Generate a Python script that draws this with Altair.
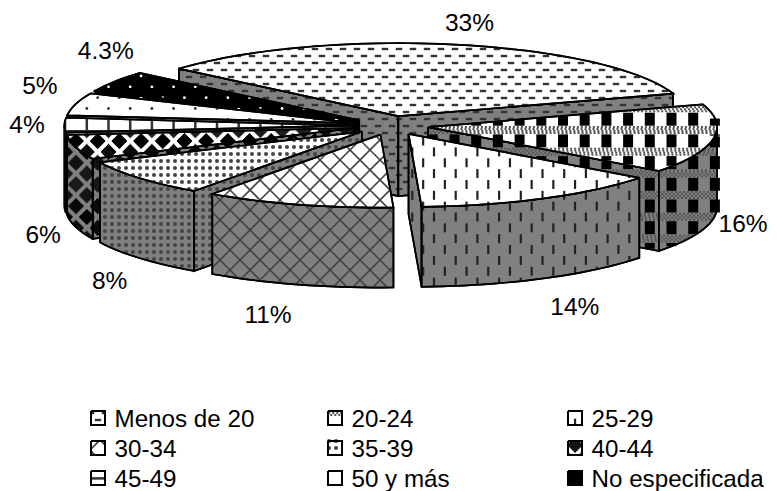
import numpy as np
import pandas as pd
import altair as alt

categories = ["Menos de 20", "20-24", "25-29", "30-34", "35-39", "40-44", "45-49", "50 y más", "No especificada"]
labels = ["33%", "16%", "14%", "11%", "8%", "6%", "4%", "5%", "4.3%"]
shares = [33.7, 15.3, 14.0, 10.6, 8.2, 5.4, 3.2, 5.0, 4.6]

# layout of the projected pie (picture pixels)
START = -49.4
CX, CY, RX, RY, DEPTH, EXPLODE = 391.0, 125.5, 289.0, 73.0, 80.0, 0.13
LABEL_OFFSET = [(22, -30), (67, 88), (49, 118), (-41, 120), (-59, 110),
                (-69, 91), (-75, 1), (-72, -20), (-41, -34)]
LEGEND_X = [91, 328, 568]
LEGEND_Y = [418, 448, 478]
LEGEND_BASE = [427, 457, 487]
DRAW_ORDER = [0, 1, 8, 7, 6, 5, 4, 3, 2]
TILE = 21.7

sx = alt.Scale(domain=[8, 769])
sy = alt.Scale(domain=[491, 8])
X = lambda f="x": alt.X(f"{f}:Q", scale=sx, axis=None)
Y = lambda f="y": alt.Y(f"{f}:Q", scale=sy, axis=None)


def inside(poly, px, py):
    p = np.array(poly)
    x0, y0 = p[:, 0], p[:, 1]
    x1, y1 = np.roll(x0, -1), np.roll(y0, -1)
    px = np.asarray(px)[..., None]
    py = np.asarray(py)[..., None]
    cond = (y0 > py) != (y1 > py)
    with np.errstate(divide="ignore", invalid="ignore"):
        xi = x0 + (py - y0) * (x1 - x0) / (y1 - y0)
    return (np.sum(cond & (px < xi), axis=-1) % 2) == 1


def clip_segments(poly, segs):
    out = []
    for (x0, y0, x1, y1) in segs:
        n = max(2, int(np.hypot(x1 - x0, y1 - y0) / 0.6))
        t = np.linspace(0, 1, n)
        xs, ys = x0 + (x1 - x0) * t, y0 + (y1 - y0) * t
        m = inside(poly, xs, ys)
        i = 0
        while i < n:
            if m[i]:
                j = i
                while j + 1 < n and m[j + 1]:
                    j += 1
                if j > i:
                    out.append(dict(x=xs[i], y=ys[i], x2=xs[j], y2=ys[j]))
                i = j + 1
            else:
                i += 1
    return out


def rules(poly, segs, color, width, dash=None, dash_offset=None):
    rows = clip_segments(poly, segs)
    if not rows:
        return []
    kw = dict(color=color, strokeWidth=width)
    if dash:
        kw["strokeDash"] = dash
    if dash_offset:
        kw["strokeDashOffset"] = dash_offset
    return [alt.Chart(pd.DataFrame(rows)).mark_rule(**kw).encode(
        x=X(), y=Y(), x2=alt.X2("x2:Q"), y2=alt.Y2("y2:Q"))]


def points(poly, pts, color, size, shape="circle"):
    rows = [dict(x=a, y=b) for a, b in pts if inside(poly, a, b)]
    if not rows:
        return []
    return [alt.Chart(pd.DataFrame(rows)).mark_point(
        filled=True, shape=shape, size=size, color=color, opacity=1).encode(x=X(), y=Y())]


def bbox(poly):
    p = np.array(poly)
    return p[:, 0].min(), p[:, 1].min(), p[:, 0].max(), p[:, 1].max()


def lattice(poly, dx, dy, stag, pad=2):
    a, b, c, d = bbox(poly)
    out = []
    for k in range(int(b // dy) - pad, int(d // dy) + pad + 1):
        off = stag if k % 2 else 0
        for n in range(int(a // dx) - pad, int(c // dx) + pad + 1):
            out.append((n * dx + off, k * dy))
    return out


def texture(i, poly, legend=False):
    a, b, c, d = bbox(poly)
    if i == 0:
        segs = [(x - 3.2, y, x + 3.2, y) for x, y in lattice(poly, 14, 7, 7)]
        return rules(poly, segs, "#333333", 2.4)
    if i == 1:
        blocks = []
        for n in range(int(a // TILE) - 1, int(c // TILE) + 2):
            for k in range(int(b // TILE) - 1, int(d // TILE) + 2):
                x0, y0 = n * TILE + 20.5, k * TILE + 10.7
                blocks.append((x0, y0 - 6.5, x0, y0 + 6.5))
        out = rules(poly, blocks, "#000000", 10)
        for k in range(int(b // TILE) - 1, int(d // TILE) + 2):
            base = k * TILE + 21.5
            for m, off in zip((-3, -1, 1, 3), (0, 2, 0, 2)):
                out += rules(poly, [(a - 1, base + m, c + 1, base + m)], "#555555", 2, [2, 2], off)
        return out
    if i == 2:
        segs = [(x, y - 4.5, x, y + 4.5) for x, y in lattice(poly, TILE, TILE / 2, TILE / 2)]
        return rules(poly, segs, "#222222", 2.2)
    if i == 3:
        a2, d2 = a + b, c + d
        segs = []
        for k in range(int(a2 // 20) - 1, int(d2 // 20) + 2):
            segs.append((k * 20 - b + 1, b - 1, k * 20 - d - 1, d + 1))
        for k in range(int((a - d) // 20) - 1, int((c - b) // 20) + 2):
            segs.append((k * 20 + b - 1, b - 1, k * 20 + d + 1, d + 1))
        return rules(poly, segs, "#444444", 1.6)
    if i == 4:
        return points(poly, lattice(poly, 7, 7, 0), "#444444", 16)
    if i == 5:
        segs = []
        for x, y in lattice(poly, TILE, TILE / 2, TILE / 2):
            for h in np.arange(-7.5, 8, 1.0):
                w = 8.0 - abs(h)
                segs.append((x - w, y + h, x + w, y + h))
        return rules(poly, segs, "#000000", 1.1)
    if i == 6:
        v = [(k * TILE, b - 1, k * TILE, d + 1) for k in range(int(a // TILE), int(c // TILE) + 2)]
        h = [(a - 1, k * TILE + 1, c + 1, k * TILE + 1) for k in range(int(b // TILE), int(d // TILE) + 2)]
        return rules(poly, v, "#333333", 2.5) + rules(poly, h, "#333333", 2.5)
    if i == 7:
        return points(poly, lattice(poly, TILE, TILE / 2, TILE / 2), "#333333", 8)
    return points(poly, lattice(poly, TILE, TILE / 2, TILE / 2), "#ffffff" if not legend else "#888888", 8)


def polygon(poly, fill, width=1.5):
    pts = list(poly) + [poly[0]]
    df = pd.DataFrame([dict(x=a, y=b, i=n) for n, (a, b) in enumerate(pts)])
    return alt.Chart(df).mark_line(fill=fill, stroke="#000000", strokeWidth=width,
                                   strokeJoin="miter", interpolate="linear").encode(
        x=X(), y=Y(), order=alt.Order("i:Q"))


def outline(poly, width=1.5):
    pts = list(poly) + [poly[0]]
    df = pd.DataFrame([dict(x=a, y=b, i=n) for n, (a, b) in enumerate(pts)])
    return alt.Chart(df).mark_line(stroke="#000000", strokeWidth=width, strokeJoin="miter").encode(
        x=X(), y=Y(), order=alt.Order("i:Q"))


def shape(i, poly, fill, width=1.7):
    return [polygon(poly, fill, width)] + texture(i, poly) + [outline(poly, width)]


total = sum(shares)
spans = [s / total * 360 for s in shares]
starts = [START + sum(spans[:k]) for k in range(len(spans))]


def on_edge(t):
    r = np.radians(t)
    return RX * np.sin(r), -RY * np.cos(r)


layers = []
for i in DRAW_ORDER:
    t0, t1 = starts[i], starts[i] + spans[i]
    mid = np.radians((t0 + t1) / 2)
    ax, ay = CX + EXPLODE * RX * np.sin(mid), CY - EXPLODE * RY * np.cos(mid)
    ts = np.linspace(t0, t1, max(3, int(spans[i] / 2)))
    rim = [(ax + on_edge(t)[0], ay + on_edge(t)[1]) for t in ts]
    wall = "#000000" if i == 8 else "#808080"
    top = "#000000" if i == 8 else "#ffffff"
    if np.sin(np.radians(t0)) < 0:
        layers += shape(i, [(ax, ay), rim[0], (rim[0][0], rim[0][1] + DEPTH), (ax, ay + DEPTH)], wall)
    if np.sin(np.radians(t1)) > 0:
        layers += shape(i, [(ax, ay), rim[-1], (rim[-1][0], rim[-1][1] + DEPTH), (ax, ay + DEPTH)], wall)
    front = [p for p, t in zip(rim, ts) if np.cos(np.radians(t)) < 0.02]
    if len(front) > 1:
        layers += shape(i, front + [(a, b + DEPTH) for a, b in reversed(front)], wall)
    layers += shape(i, [(ax, ay)] + rim, top)

label_rows = []
for i, lab in enumerate(labels):
    mid = starts[i] + spans[i] / 2
    ex, ey = on_edge(mid)
    dx, dy = LABEL_OFFSET[i]
    label_rows.append(dict(x=CX + ex + dx, y=CY + ey + dy, t=lab))
layers.append(alt.Chart(pd.DataFrame(label_rows)).mark_text(
    font="Liberation Sans", fontSize=24.5, align="center", baseline="middle", color="#000000").encode(
    x=X(), y=Y(), text="t:N"))

legend_rows = []
for k, name in enumerate(categories):
    lx, ly = LEGEND_X[k % 3], LEGEND_Y[k // 3]
    legend_rows.append(dict(x=lx + 23.5, y=LEGEND_BASE[k // 3], t=name))
    sq = [(lx, ly - 7), (lx + 14, ly - 7), (lx + 14, ly + 7), (lx, ly + 7)]
    layers += [polygon(sq, "#000000" if k == 8 else "#ffffff", 2)] + texture(k, sq, True) + [outline(sq, 2)]
layers.append(alt.Chart(pd.DataFrame(legend_rows)).mark_text(
    font="Liberation Sans", fontSize=24.2, align="left", baseline="alphabetic", color="#000000").encode(
    x=X(), y=Y(), text="t:N"))

chart = alt.layer(*layers).properties(
    width=761, height=483, padding=0, autosize=alt.AutoSizeParams(type="none")
).configure_view(stroke=None)
chart.save("out.html", embed_options={"renderer": "svg", "actions": False})
